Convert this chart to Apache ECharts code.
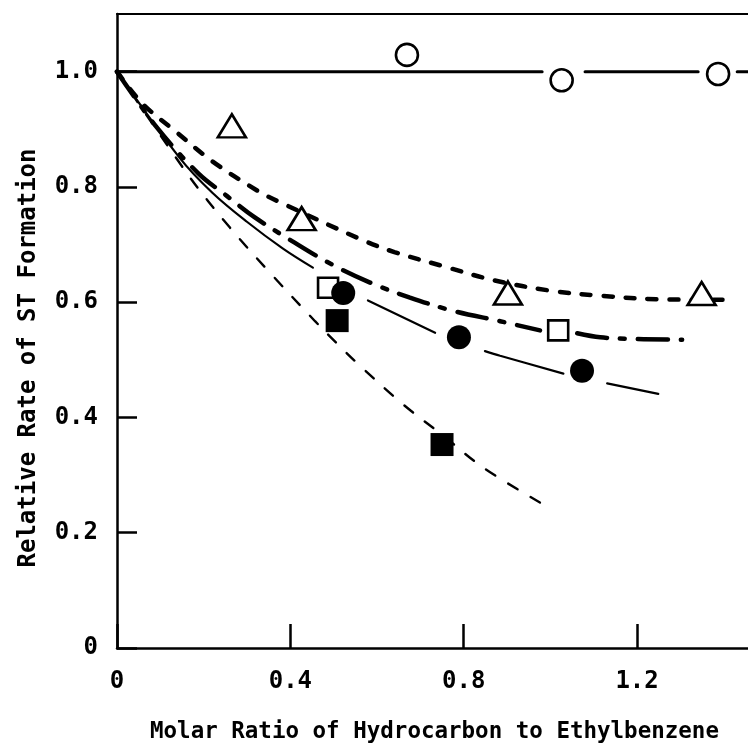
<!DOCTYPE html>
<html>
<head>
<meta charset="utf-8">
<script src="https://cdn.jsdelivr.net/npm/echarts@6/dist/echarts.min.js"></script>
<style>
html,body{margin:0;padding:0;background:#fff;}
#chart{width:748px;height:747px;}
</style>
</head>
<body>
<div id="chart"></div>
<script>
// ---- data ----
const xTitle = 'Molar Ratio of Hydrocarbon to Ethylbenzene';
const yTitle = 'Relative Rate of ST Formation';
const xTickLabels = ['0', '0.4', '0.8', '1.2'];
const yTickLabels = ['0', '0.2', '0.4', '0.6', '0.8', '1.0'];

// open circles
const openCircles = [[0.669, 1.029], [1.026, 0.985], [1.387, 0.996]];
const openCircleLine = [[0, 1.0], [0.981, 1.0], [1.0, '-'], [1.080, 1.0], [1.341, 1.0], [1.38, '-'], [1.431, 1.0], [1.46, 1.0]];

// open triangles
const triangles = [[0.265, 0.906], [0.426, 0.745], [0.902, 0.616], [1.349, 0.615]];
const triangleCurve = [[0, 1.0], [0.058, 0.945], [0.134, 0.897], [0.219, 0.845], [0.325, 0.793], [0.383, 0.771],
  [0.572, 0.706], [0.64, 0.687], [0.75, 0.663], [0.87, 0.638], [1.0, 0.620], [1.12, 0.611], [1.25, 0.605], [1.415, 0.604]];

// open squares
const openSquares = [[0.487, 0.625], [1.018, 0.551]];
const openSquareCurve = [[0, 1.0], [0.09, 0.905], [0.187, 0.824], [0.254, 0.784], [0.318, 0.747], [0.404, 0.706],
  [0.492, 0.667], [0.584, 0.634], [0.676, 0.608], [0.775, 0.585], [0.884, 0.567], [0.976, 0.551],
  [0.99, '-'], [1.062, 0.546], [1.115, 0.539], [1.2, 0.536], [1.304, 0.535]];

// filled circles
const filledCircles = [[0.522, 0.616], [0.789, 0.539], [1.073, 0.481]];
const filledCircleCurve = [[0, 1.0], [0.145, 0.850], [0.22, 0.790], [0.299, 0.740], [0.383, 0.693], [0.452, 0.660],
  [0.5, '-'], [0.579, 0.603], [0.734, 0.547], [0.78, '-'], [0.849, 0.515], [0.884, 0.507], [1.03, 0.476],
  [1.07, '-'], [1.131, 0.459], [1.249, 0.441]];

// filled squares
const filledSquares = [[0.508, 0.568], [0.750, 0.353]];
const filledSquareCurve = [[0, 1.0], [0.166, 0.819], [0.261, 0.729], [0.358, 0.647], [0.457, 0.567], [0.508, 0.528],
  [0.556, 0.493], [0.658, 0.424], [0.750, 0.370], [0.845, 0.313], [0.979, 0.251]];

// ---- chart ----
const FONT = '"DejaVu Sans Mono", "Liberation Mono", monospace';
const chart = echarts.init(document.getElementById('chart'), null, {renderer: 'canvas'});

function lineSeries(data, width, dash, z) {
  return {
    type: 'line', data: data, showSymbol: false, symbol: 'none', smooth: 0.35,
    connectNulls: false, silent: true, z: z || 2,
    lineStyle: {color: '#000', width: width, type: dash, cap: 'round'}
  };
}
function scatterSeries(data, symbol, size, filled) {
  return {
    type: 'scatter', data: data, symbol: symbol, symbolSize: size, z: 5, silent: true,
    itemStyle: {color: filled ? '#000' : '#fff', borderColor: '#000', borderWidth: filled ? 0 : 2.6, opacity: 1}
  };
}

const XMAX = 1.456;
const option = {
  backgroundColor: '#fff',
  animation: false,
  grid: {left: 117, top: 14, right: 0, bottom: 99, show: false},
  xAxis: [{
    type: 'value', min: 0, max: XMAX, interval: 0.4, position: 'bottom',
    axisLine: {show: true, onZero: false, lineStyle: {color: '#000', width: 2.5}},
    axisTick: {show: true, inside: true, length: 24, lineStyle: {color: '#000', width: 2.5}},
    splitLine: {show: false},
    axisLabel: {
      show: true, margin: 22, showMaxLabel: false, color: '#000',
      fontFamily: FONT, fontWeight: 'bold', fontSize: 24,
      formatter: function (v) { const i = Math.round(v / 0.4); return (Math.abs(v - i * 0.4) < 1e-6 && xTickLabels[i] !== undefined) ? xTickLabels[i] : ''; }
    }
  }, {
    type: 'value', min: 0, max: XMAX, position: 'top',
    axisLine: {show: true, onZero: false, lineStyle: {color: '#000', width: 2.2}},
    axisTick: {show: false}, axisLabel: {show: false}, splitLine: {show: false}
  }],
  yAxis: {
    type: 'value', min: 0, max: 1.1, interval: 0.2,
    axisLine: {show: true, onZero: false, lineStyle: {color: '#000', width: 2.5}},
    axisTick: {show: true, inside: true, length: 20, lineStyle: {color: '#000', width: 2.5}},
    splitLine: {show: false},
    axisLabel: {
      show: true, margin: 19, showMaxLabel: false, color: '#000',
      fontFamily: FONT, fontWeight: 'bold', fontSize: 24,
      formatter: function (v) { const i = Math.round(v / 0.2); return (Math.abs(v - i * 0.2) < 1e-6 && yTickLabels[i] !== undefined) ? yTickLabels[i] : ''; }
    }
  },
  graphic: [
    {type: 'text', left: 150, top: 721, z: 10,
      style: {text: xTitle, fill: '#000', font: 'bold 22.5px ' + FONT}},
    {type: 'text', x: 29, y: 358, rotation: Math.PI / 2, z: 10,
      style: {text: yTitle, fill: '#000', font: 'bold 24px ' + FONT, align: 'center', verticalAlign: 'middle'}}
  ],
  series: [
    lineSeries(openCircleLine, 3, 'solid', 3),
    lineSeries(triangleCurve, 4.5, [9, 13], 2),
    lineSeries(openSquareCurve, 4.5, [30, 13, 5, 13], 2),
    lineSeries(filledCircleCurve, 2.2, 'solid', 2),
    lineSeries(filledSquareCurve, 2.4, [11, 15], 2),
    scatterSeries(openCircles, 'circle', 22, false),
    scatterSeries(triangles, 'triangle', [28, 23], false),
    scatterSeries(openSquares, 'rect', 20, false),
    scatterSeries(filledCircles, 'circle', 24, true),
    scatterSeries(filledSquares, 'rect', 23, true)
  ]
};
chart.setOption(option);
</script>
</body>
</html>
